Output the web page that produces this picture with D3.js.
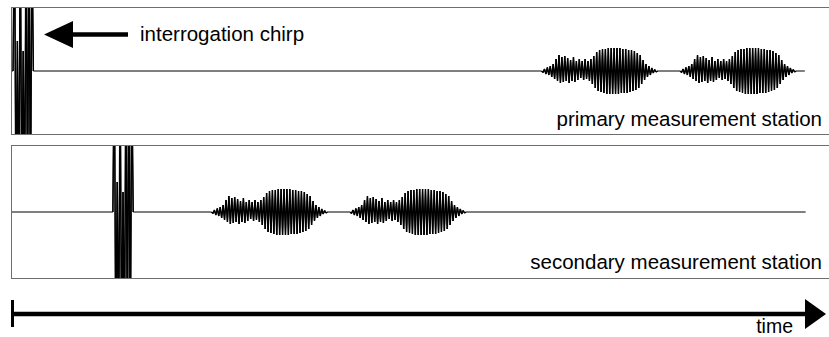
<!DOCTYPE html>
<html>
<head>
<meta charset="utf-8">
<script src="https://cdn.jsdelivr.net/npm/d3@7"></script>
<style>
  html, body { margin: 0; padding: 0; background: #fff; }
  svg { display: block; }
  text { font-family: "Liberation Sans", Arial, Helvetica, sans-serif; fill: #000; }
</style>
</head>
<body>
<svg id="chart" width="829" height="337"></svg>
<script>
// ---- data -------------------------------------------------------------
// Station labels, one trace per station.
const stationNames = ["primary measurement station", "secondary measurement station"];
// Time (µs) at which the interrogation chirp appears in each trace.
const chirpStarts = [2.5, 125];
// Arrival times (µs) of the two reflected echoes in each trace.
const echoStarts = [[651, 821], [246, 416]];
// Time (µs) where each recorded trace ends.
const traceEnds = [974, 975];
// Sampling interval of the recorded waveforms (µs).
const sampleStep = 1.78;
// Interrogation chirp samples (saturates the recorder range).
const chirpSamples = [0, 170, -150, 30, -150, 160, -150, 20, -150, 170, -160, 170, -170, 150, 0];
// Reflected echo samples (the same response returns from each reflector).
const echoSamples = [
  0, -1.5, 2, -3, 3.5, -4, 5, -6, 7, -8,
  12, -10, 16, -12, 14, -11, 15, -10, 13, -12,
  11, -10, 14, -11, 10, -9, 12, -7, 10, -9,
  12, -8, 10, -10, 12, -13, 15, -17, 19, -20,
  21, -21, 22, -22, 22, -23, 23, -23, 23, -23,
  23, -23, 23, -23, 23, -22, 22, -22, 22, -22,
  21, -21, 21, -20, 20, -19, 18, -17, 16, -13,
  11, -9, 7, -6, 5, -4, 3, -2, 1.5, -1, 0
];
const timeDomain = [0, 1000];
const ampDomain = [-64, 64];
const annotationText = "interrogation chirp";
const axisLabel = "time";

// ---- layout -----------------------------------------------------------
const svg = d3.select("#chart");
const x = d3.scaleLinear().domain(timeDomain).range([11, 826]);
const panels = [
  { top: 7.5, bottom: 134.5, label: 126 },
  { top: 145.5, bottom: 278.5, label: 269 }
];

stationNames.forEach((name, i) => {
  const p = panels[i];
  const mid = (p.top + p.bottom) / 2;
  const y = d3.scaleLinear().domain(ampDomain).range([mid + 64, mid - 64]);

  const clipId = "clip" + i;
  svg.append("clipPath").attr("id", clipId)
    .append("rect")
    .attr("x", 11.5).attr("y", p.top)
    .attr("width", 840).attr("height", p.bottom - p.top);

  const line = d3.line().x(d => x(d[0])).y(d => y(d[1]));
  const g = svg.append("g").attr("clip-path", `url(#${clipId})`);

  // individual bursts: the chirp and each echo
  const chirp = chirpSamples.map((v, k) => [chirpStarts[i] + k * sampleStep, v]);
  const echoes = echoStarts[i].map(t0 => echoSamples.map((v, k) => [t0 + k * sampleStep, v]));

  // full trace: baseline with the bursts inserted
  const trace = [[0, 0], ...chirp, ...echoes.flat(), [traceEnds[i], 0]];
  g.append("path")
    .attr("d", line(trace))
    .attr("fill", "none")
    .attr("stroke", "#000")
    .attr("stroke-width", 1);

  // bursts are drawn a little heavier so the dense oscillation reads as a block
  [chirp, ...echoes].forEach(b => {
    g.append("path")
      .attr("d", line(b))
      .attr("fill", "none")
      .attr("stroke", "#000")
      .attr("stroke-width", 1.45)
      .attr("stroke-linejoin", "bevel");
  });

  // panel frame
  svg.append("rect")
    .attr("x", 11.5).attr("y", p.top)
    .attr("width", 840).attr("height", p.bottom - p.top)
    .attr("fill", "none")
    .attr("stroke", "#6e6e6e")
    .attr("stroke-width", 1);

  svg.append("text")
    .attr("x", 822).attr("y", p.label)
    .attr("text-anchor", "end")
    .attr("font-size", 20.5)
    .text(name);
});

// ---- annotation arrow pointing at the chirp ---------------------------
const ay = 34.5;
svg.append("line")
  .attr("x1", 72).attr("x2", 128)
  .attr("y1", ay).attr("y2", ay)
  .attr("stroke", "#000").attr("stroke-width", 4.5);
svg.append("path")
  .attr("d", `M44,${ay} L73,${ay - 13.5} L73,${ay + 13.5} Z`)
  .attr("fill", "#000");
svg.append("text")
  .attr("x", 140).attr("y", 41)
  .attr("font-size", 20.5)
  .text(annotationText);

// ---- time axis --------------------------------------------------------
const ty = 314;
const xEnd = x(timeDomain[1]);
svg.append("line")
  .attr("x1", x(0)).attr("x2", xEnd - 20)
  .attr("y1", ty).attr("y2", ty)
  .attr("stroke", "#000").attr("stroke-width", 4.5);
svg.append("line")
  .attr("x1", x(0) + 1.5).attr("x2", x(0) + 1.5)
  .attr("y1", ty - 14).attr("y2", ty + 13)
  .attr("stroke", "#000").attr("stroke-width", 3);
svg.append("path")
  .attr("d", `M${xEnd},${ty} L${xEnd - 21},${ty - 15} L${xEnd - 21},${ty + 15} Z`)
  .attr("fill", "#000");
svg.append("text")
  .attr("x", 793).attr("y", 333)
  .attr("text-anchor", "end")
  .attr("font-size", 19.5)
  .text(axisLabel);
</script>
</body>
</html>
